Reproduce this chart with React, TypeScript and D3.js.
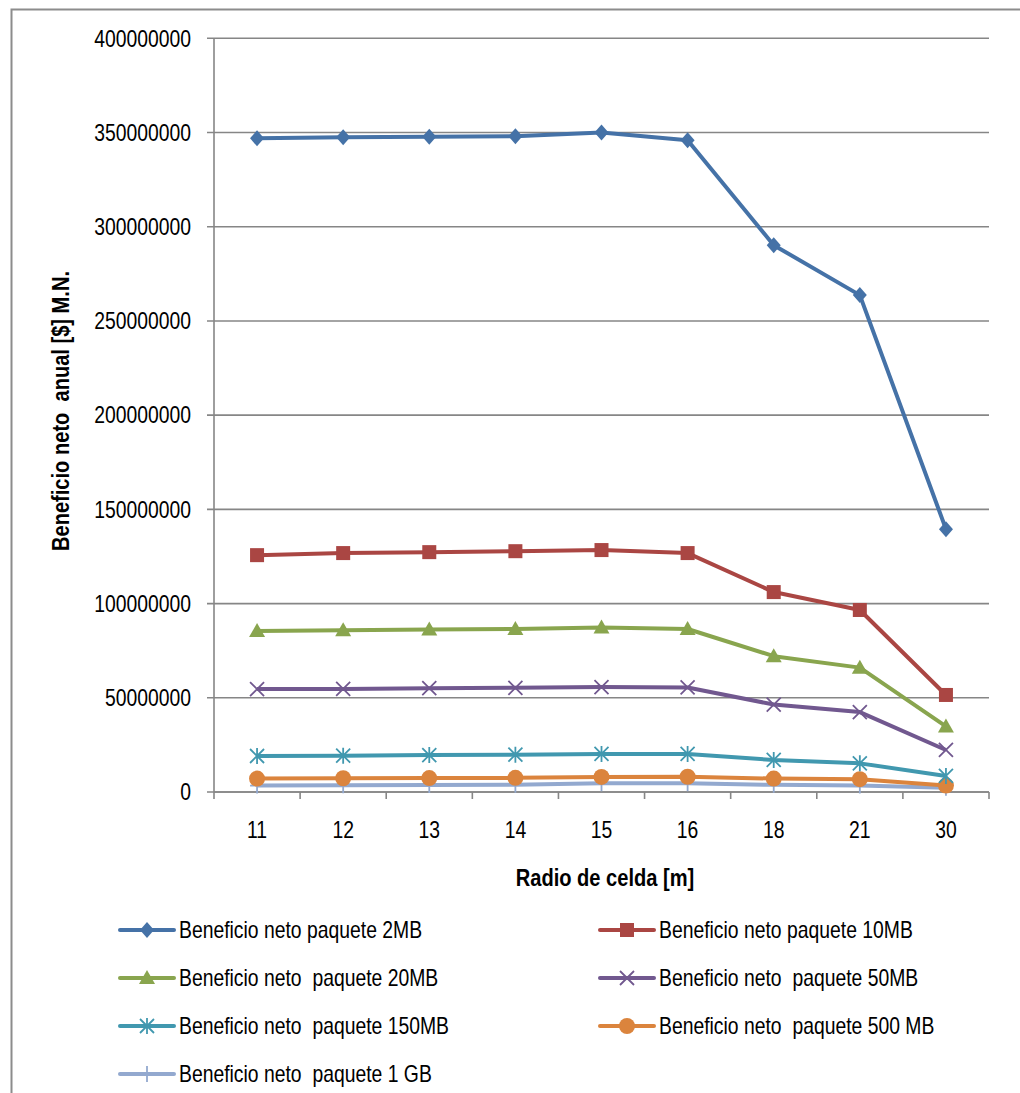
import React from "react";
import * as d3 from "d3";

const categories = ["11", "12", "13", "14", "15", "16", "18", "21", "30"];
const yTicks = [0, 50000000, 100000000, 150000000, 200000000, 250000000, 300000000, 350000000, 400000000];

const s2MB = [346900000, 347500000, 347700000, 348000000, 350000000, 345900000, 290200000, 263700000, 139500000];
const s10MB = [125700000, 126800000, 127300000, 127800000, 128400000, 126800000, 106100000, 96600000, 51500000];
const s20MB = [85400000, 85900000, 86300000, 86500000, 87300000, 86500000, 72100000, 66000000, 34800000];
const s50MB = [54600000, 54700000, 55100000, 55300000, 55700000, 55500000, 46400000, 42400000, 22300000];
const s150MB = [19100000, 19300000, 19600000, 19800000, 20200000, 20200000, 17000000, 15200000, 8500000];
const s500MB = [7100000, 7300000, 7400000, 7500000, 8000000, 8100000, 7100000, 6800000, 3400000];
const s1GB = [3400000, 3600000, 3700000, 3800000, 4600000, 4600000, 3800000, 3500000, 2200000];

const seriesNames = [
  "Beneficio neto paquete 2MB",
  "Beneficio neto paquete 10MB",
  "Beneficio neto  paquete 20MB",
  "Beneficio neto  paquete 50MB",
  "Beneficio neto  paquete 150MB",
  "Beneficio neto  paquete 500 MB",
  "Beneficio neto  paquete 1 GB",
];
const seriesValues = [s2MB, s10MB, s20MB, s50MB, s150MB, s500MB, s1GB];
const seriesColors = ["#4572A7", "#AA4643", "#89A54E", "#71588F", "#4198AF", "#DB843D", "#93A9CF"];
const seriesMarkers = ["diamond", "square", "triangle", "x", "star", "circle", "plus"];

const yTitle = "Beneficio neto  anual [$] M.N.";
const xTitle = "Radio de celda [m]";

const FONT = "'Liberation Sans', Arial, sans-serif";
const SQ = 0.82; // narrow compression
const FS = 23.6;

function NText({
  x,
  y,
  children,
  anchor = "start",
  size = FS,
  bold = false,
  rotate = 0,
}: {
  x: number;
  y: number;
  children: React.ReactNode;
  anchor?: string;
  size?: number;
  bold?: boolean;
  rotate?: number;
}) {
  return (
    <text
      transform={`translate(${x},${y})${rotate ? ` rotate(${rotate})` : ""} scale(${SQ},1)`}
      textAnchor={anchor as any}
      dominantBaseline="central"
      fontFamily={FONT}
      fontWeight={bold ? "bold" : "normal"}
      fontSize={size}
      fill="#000"
      style={{ whiteSpace: "pre" }}
      xmlSpace="preserve"
    >
      {children}
    </text>
  );
}

function Marker({ type, x, y, color }: { type: string; x: number; y: number; color: string }) {
  switch (type) {
    case "diamond":
      return <path d={`M${x},${y - 8}L${x + 7},${y}L${x},${y + 8}L${x - 7},${y}Z`} fill={color} />;
    case "square":
      return <rect x={x - 7} y={y - 7} width={14} height={14} fill={color} />;
    case "triangle":
      return <path d={`M${x},${y - 8}L${x + 8},${y + 6}L${x - 8},${y + 6}Z`} fill={color} />;
    case "x":
      return (
        <path d={`M${x - 7},${y - 7}L${x + 7},${y + 7}M${x - 7},${y + 7}L${x + 7},${y - 7}`} stroke={color} strokeWidth={1.8} fill="none" />
      );
    case "star":
      return (
        <path
          d={`M${x - 7},${y - 7}L${x + 7},${y + 7}M${x - 7},${y + 7}L${x + 7},${y - 7}M${x},${y - 8}L${x},${y + 8}`}
          stroke={color}
          strokeWidth={1.8}
          fill="none"
        />
      );
    case "circle":
      return <circle cx={x} cy={y} r={8} fill={color} />;
    case "plus":
      return <path d={`M${x - 7},${y}L${x + 7},${y}M${x},${y - 8}L${x},${y + 8}`} stroke={color} strokeWidth={1.8} fill="none" />;
    default:
      return null;
  }
}

export default function App() {
  const W = 1020;
  const H = 1093;
  const left = 214;
  const right = 989;
  const top = 38.3;
  const bottom = 792;

  const x = d3.scaleBand<string>().domain(categories).range([left, right]);
  const y = d3.scaleLinear().domain([0, 400000000]).range([bottom, top]);
  const cx = (c: string) => (x(c) as number) + x.bandwidth() / 2;

  const line = d3
    .line<number>()
    .x((_, i) => cx(categories[i]))
    .y((d) => y(d));

  const gridColor = "#868686";
  const legendRows = [930, 978, 1026, 1074];

  return (
    <svg width={W} height={H} style={{ position: "absolute", left: 0, top: 0 }}>
      <rect x={0} y={0} width={W} height={H} fill="#fff" />
      {/* outer border */}
      <path d={`M11.5,${H}L11.5,9.5L${W},9.5`} stroke="#8c8c8c" strokeWidth={2} fill="none" />

      {/* gridlines & y ticks */}
      {yTicks.map((t) => (
        <g key={t}>
          <line x1={207} x2={right} y1={y(t)} y2={y(t)} stroke={gridColor} strokeWidth={1.6} />
          <NText x={191} y={y(t)} anchor="end">
            {String(t)}
          </NText>
        </g>
      ))}
      {/* y axis */}
      <line x1={left} x2={left} y1={top} y2={bottom} stroke={gridColor} strokeWidth={1.6} />
      {/* x axis */}
      <line x1={left} x2={right} y1={bottom} y2={bottom} stroke={gridColor} strokeWidth={1.6} />
      {categories.map((c) => (
        <line key={"tk" + c} x1={x(c) as number} x2={x(c) as number} y1={bottom} y2={bottom + 7} stroke={gridColor} strokeWidth={1.6} />
      ))}
      <line x1={right} x2={right} y1={bottom} y2={bottom + 7} stroke={gridColor} strokeWidth={1.6} />
      {categories.map((c) => (
        <NText key={"xl" + c} x={cx(c)} y={830} anchor="middle">
          {c}
        </NText>
      ))}

      {/* axis titles */}
      <NText x={61} y={411} anchor="middle" bold rotate={-90} size={24.5}>
        {yTitle}
      </NText>
      <NText x={605} y={878} anchor="middle" bold size={24.5}>
        {xTitle}
      </NText>

      {/* series */}
      {seriesValues
        .map((vals, si) => ({ vals, si }))
        .reverse()
        .map(({ vals, si }) => (
          <g key={"s" + si}>
            <path d={line(vals) || ""} fill="none" stroke={seriesColors[si]} strokeWidth={4} strokeLinejoin="round" />
            {vals.map((v, i) => (
              <Marker key={i} type={seriesMarkers[si]} x={cx(categories[i])} y={y(v)} color={seriesColors[si]} />
            ))}
          </g>
        ))}

      {/* legend */}
      {seriesNames.map((name, i) => {
        const col = i % 2;
        const row = Math.floor(i / 2);
        const lx = col === 0 ? 120 : 600;
        const ly = legendRows[row];
        return (
          <g key={"lg" + i}>
            <line x1={lx} x2={lx + 54} y1={ly} y2={ly} stroke={seriesColors[i]} strokeWidth={4} strokeLinecap="round" />
            <Marker type={seriesMarkers[i]} x={lx + 27} y={ly} color={seriesColors[i]} />
            <NText x={lx + 59} y={ly}>
              {name}
            </NText>
          </g>
        );
      })}
    </svg>
  );
}
